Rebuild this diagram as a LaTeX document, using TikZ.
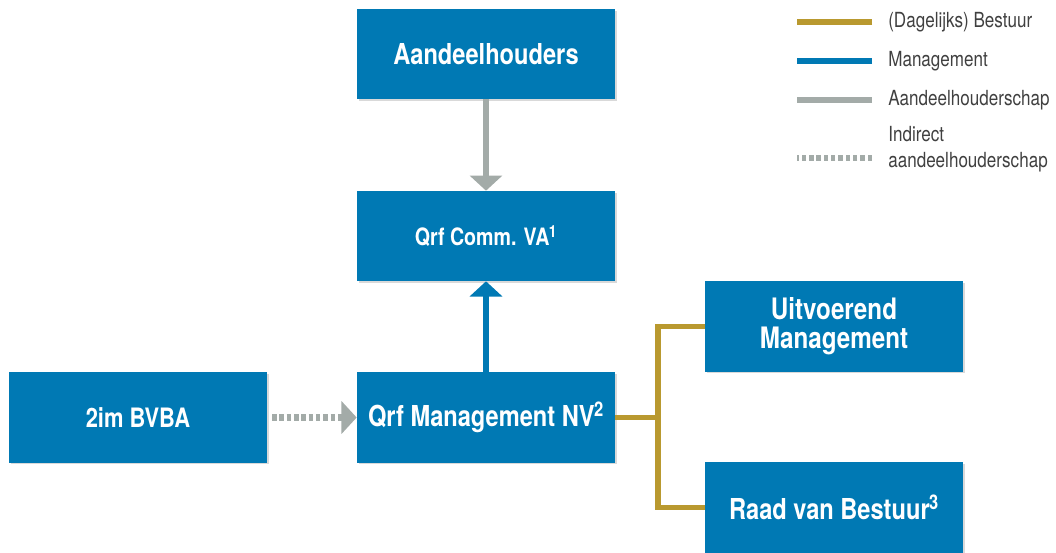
\documentclass[tikz,border=0pt]{standalone}
\usepackage{fontspec}
\setmainfont[FakeStretch=0.82]{TeX Gyre Heros}
\usetikzlibrary{arrows.meta,positioning,shadows}
\definecolor{qblue}{RGB}{0,121,180}
\definecolor{qgold}{RGB}{185,153,47}
\definecolor{qgrey}{RGB}{163,171,168}
\newcommand{\sups}[1]{\textsuperscript{\kern-0.5pt #1}}

\begin{document}
\begin{tikzpicture}[x=0.025cm, y=-0.025cm,
 box/.style={fill=qblue, text=white, align=center, inner sep=0pt,
   minimum width=6.45cm, minimum height=2.25cm,
   font=\bfseries\fontsize{17}{20}\selectfont,
   drop shadow={shadow xshift=1.2pt, shadow yshift=-1.2pt, opacity=0.3}},
 bigbox/.style={box, font=\bfseries\fontsize{20.5}{20.5}\selectfont},
 tip/.style={-{Triangle[width=0.8cm, length=0.38cm]}},
 bezit/.style={qgrey, line width=4.3pt},
 indirect/.style={qgrey, line width=4.3pt, dash pattern=on 3.2pt off 2pt},
 mgmt/.style={qblue, line width=4.3pt},
 bestuur/.style={qgold, line width=3.6pt},
 legtext/.style={anchor=west, inner sep=0pt, align=left,
   font=\fontsize{14.8}{18.5}\selectfont, text=black!75}]
\useasboundingbox (0,0) rectangle (1056,552);

% boxes
\node[bigbox] (aandeel) at (486,54) {Aandeelhouders};
\node[box] (comm) at (486,236) {Qrf Comm. VA\sups{1}};
\node[bigbox] (qrfnv) at (486,417.5) {Qrf Management NV\sups{2}};
\node[bigbox, font=\bfseries\fontsize{19}{20}\selectfont] (bvba) at (138,417.5) {2im BVBA};
\node[bigbox, font=\bfseries\fontsize{21}{20.5}\selectfont] (uitv) at (834,326.5) {Uitvoerend\\Management};
\node[bigbox] (raad) at (834,507.5) {Raad van Bestuur\sups{3}};

% connectors
\draw[bezit, tip] (aandeel) -- (comm);
\draw[mgmt, tip] (qrfnv) -- (comm);
\draw[indirect, tip, shorten <=0.12cm] (bvba) -- (qrfnv);
\coordinate (split) at (658,417.5);
\draw[bestuur] (qrfnv.east) -- (split);
\draw[bestuur] (uitv.west) -| (split) |- (raad.west);

% legend
\node[legtext] (lbest) at (888,22) {(Dagelijks) Bestuur};
\node[legtext] (lmgmt) at (888,61) {Management};
\node[legtext] (lbezit) at (888,100) {Aandeelhouderschap};
\node[legtext] (lindir) at (888,149) {Indirect\\aandeelhouderschap};
\draw[bestuur] ([xshift=-0.4cm]lbest.west) -- ++(-75,0);
\draw[mgmt] ([xshift=-0.4cm]lmgmt.west) -- ++(-75,0);
\draw[bezit] ([xshift=-0.4cm]lbezit.west) -- ++(-75,0);
\draw[indirect] ([xshift=-0.4cm,yshift=-0.22cm]lindir.west) -- ++(-75,0);
\end{tikzpicture}
\end{document}
